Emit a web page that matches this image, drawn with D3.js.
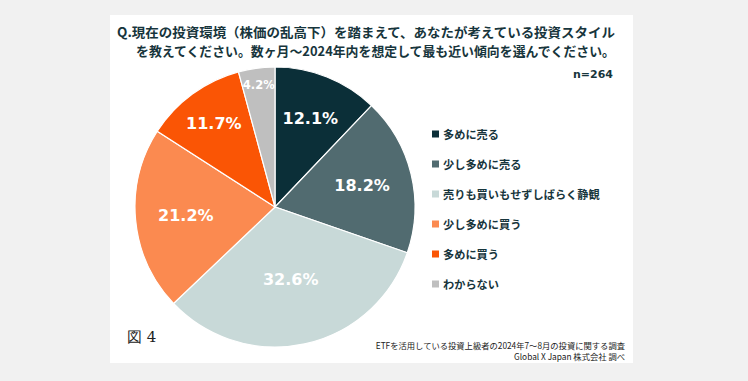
<!DOCTYPE html>
<html>
<head>
<meta charset="utf-8">
<script src="https://cdn.jsdelivr.net/npm/d3@7/dist/d3.min.js"></script>
<style>
  html, body { margin: 0; padding: 0; background: #f1f1f1; }
  svg { display: block; }
</style>
</head>
<body>
<div id="chart"></div>
<script>
// data
const categories = ['多めに売る', '少し多めに売る', '売りも買いもせずしばらく静観', '少し多めに買う', '多めに買う', 'わからない'];
const shares = [12.1, 18.2, 32.6, 21.2, 11.7, 4.2];
const sliceColors = ['#0b2f38', '#516b70', '#c8d9d8', '#fb8a50', '#fa5505', '#bfbfbf'];
const titleLines = [
  'Q.現在の投資環境（株価の乱高下）を踏まえて、あなたが考えている投資スタイル',
  'を教えてください。数ヶ月～2024年内を想定して最も近い傾向を選んでください。'
];
const sampleNote = 'n=264';
const sourceLines = ['ETFを活用している投資上級者の2024年7～8月の投資に関する調査', 'Global X Japan 株式会社 調べ'];
const figLabel = '図 4';

// label distance from centre, as a fraction of the radius (Excel best-fit placement)
const labelRatio = [0.68, 0.64, 0.53, 0.64, 0.74, 0.88];

const W = 748, H = 381;
const textColor = '#17353c';
const jpFont = '"Noto Sans CJK JP", "Noto Sans", sans-serif';

const svg = d3.select('#chart')
  .append('svg')
  .attr('width', W)
  .attr('height', H);

// white card
svg.append('rect')
  .attr('x', 110).attr('y', 15)
  .attr('width', 523).attr('height', 348)
  .attr('fill', '#ffffff');

// title (right aligned block)
const titleWidths = [498, 479];
svg.selectAll('.title')
  .data(titleLines)
  .enter()
  .append('text')
  .attr('class', 'title')
  .attr('x', (d, i) => 615 - titleWidths[i])
  .attr('y', (d, i) => 31.5 + i * 19)
  .attr('dominant-baseline', 'central')
  .attr('textLength', (d, i) => titleWidths[i])
  .attr('lengthAdjust', 'spacingAndGlyphs')
  .style('font-family', jpFont)
  .style('font-weight', 700)
  .style('font-size', '13px')
  .style('fill', textColor)
  .text((d) => d);

svg.append('text')
  .attr('x', 613).attr('y', 74)
  .attr('text-anchor', 'end')
  .attr('dominant-baseline', 'central')
  .style('font-family', '"DejaVu Sans", sans-serif')
  .style('font-weight', 700)
  .style('font-size', '11px')
  .style('fill', textColor)
  .text(sampleNote);

// pie
const cx = 275, cy = 207, r = 140;
const g = svg.append('g').attr('transform', `translate(${cx},${cy})`);

const pie = d3.pie().sort(null).value((d) => d.value);
const arcs = pie(shares.map((v, i) => ({ value: v, name: categories[i], i })));
const arc = d3.arc().innerRadius(0).outerRadius(r);

g.selectAll('path')
  .data(arcs)
  .enter()
  .append('path')
  .attr('d', arc)
  .attr('fill', (d) => sliceColors[d.data.i])
  .attr('stroke', '#ffffff')
  .attr('stroke-width', 1.2);

g.selectAll('.pct')
  .data(arcs)
  .enter()
  .append('text')
  .attr('class', 'pct')
  .attr('transform', (d) => {
    const lr = r * labelRatio[d.data.i];
    const a = d3.arc().innerRadius(lr).outerRadius(lr);
    return `translate(${a.centroid(d)})`;
  })
  .attr('text-anchor', 'middle')
  .attr('dominant-baseline', 'central')
  .style('font-family', '"DejaVu Sans", sans-serif')
  .style('font-weight', 700)
  .style('font-size', (d) => (d.data.value < 5 ? '11.5px' : '16px'))
  .style('fill', '#ffffff')
  .text((d) => `${d.data.value.toFixed(1)}%`);

// legend
const legend = svg.append('g').attr('transform', 'translate(432,134)');
const row = d3.scaleBand().domain(categories).range([0, 180]);
const item = legend.selectAll('.item')
  .data(categories)
  .enter()
  .append('g')
  .attr('class', 'item')
  .attr('transform', (d) => `translate(0,${row(d)})`);

item.append('rect')
  .attr('x', 0).attr('y', -3.5)
  .attr('width', 7).attr('height', 7)
  .attr('fill', (d, i) => sliceColors[i]);

item.append('text')
  .attr('x', 11).attr('y', 0)
  .attr('dominant-baseline', 'central')
  .style('font-family', jpFont)
  .style('font-weight', 700)
  .style('font-size', '11.2px')
  .style('fill', textColor)
  .text((d) => d);

// footer
svg.append('text')
  .attr('x', 127).attr('y', 337)
  .attr('dominant-baseline', 'central')
  .style('font-family', '"DejaVu Serif", "Liberation Serif", serif')
  .style('font-size', '15px')
  .style('fill', '#222')
  .text(figLabel);

svg.selectAll('.src')
  .data(sourceLines)
  .enter()
  .append('text')
  .attr('class', 'src')
  .attr('x', 625)
  .attr('y', (d, i) => 345 + i * 10.5)
  .attr('text-anchor', 'end')
  .attr('dominant-baseline', 'central')
  .style('font-family', jpFont)
  .style('font-size', '8.3px')
  .style('fill', '#222')
  .text((d) => d);
</script>
</body>
</html>
